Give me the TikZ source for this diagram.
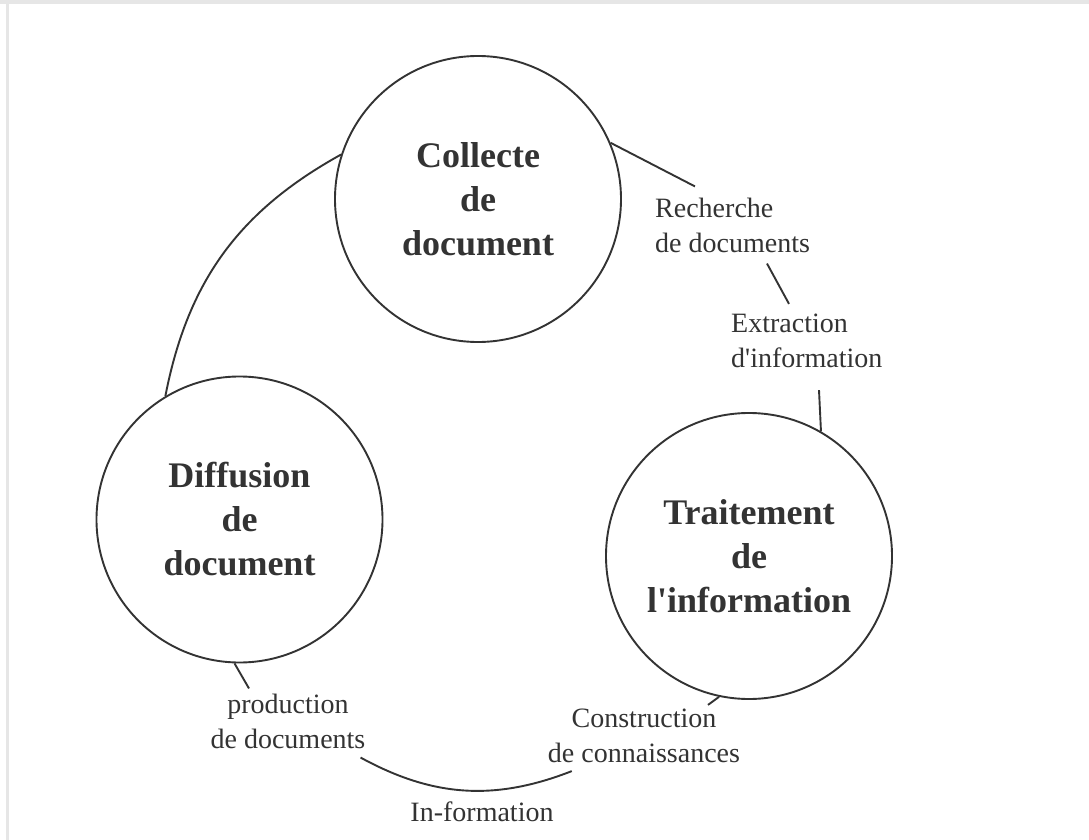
\documentclass[tikz,border=0pt]{standalone}
\usepackage{fontspec}
\setmainfont{Liberation Serif}
\definecolor{ink}{HTML}{333333}
\definecolor{framegray}{HTML}{E6E6E6}

\begin{document}
\begin{tikzpicture}[x=1pt, y=1pt,
    phase/.style={circle, draw=ink, line width=1.9pt, minimum size=286pt, inner sep=0pt,
      align=center, text=ink, font=\fontsize{36}{44}\selectfont\bfseries},
    tag/.style={inner sep=0pt, text=ink, font=\fontsize{28}{35}\selectfont},
    link/.style={draw=ink, line width=1.9pt}]

  % Frame
  \fill[white] (0,0) rectangle (1089,-840);
  \fill[framegray] (0,0) rectangle (1089,-4);
  \fill[framegray] (6,-4) rectangle (9,-840);

  % Phases of the cycle
  \node[phase] (col) at (478,-199) {Collecte\\de\\document};
  \node[phase] (dif) at (239.5,-519.5) {Diffusion\\de\\document};
  \node[phase] (trt) at (749,-556) {Traitement\\de\\l\textquotesingle information};

  % Tasks between the phases
  \node[tag, anchor=west, align=left] (rech) at (655,-225) {Recherche\\de documents};
  \node[tag, anchor=west, align=left] (extr) at (731,-341) {Extraction\\d\textquotesingle information};
  \node[tag, align=center] (constr) at (644,-736) {Construction\\de connaissances};
  \node[tag, align=center] (prod) at (288,-721) {production\\de documents};
  \node[tag, anchor=base] (inf) at (482,-821) {In-formation};

  % Links
  \draw[link] (dif.121) to[bend left=25] (col.162);
  \draw[link] (col.23) -- ([shift={(40,11)}]rech.north west);
  \draw[link] ([shift={(112,-11)}]rech.south west) -- ([shift={(58,10)}]extr.north west);
  \draw[link] ([shift={(88,-22)}]extr.south west) -- (trt.60);
  \draw[link] (trt.258) -- ([shift={(64,4)}]constr.north);
  \draw[link] (dif.268) -- ([shift={(-39,5)}]prod.north);
  \draw[link] ([shift={(-5,-9)}]prod.south east) to[bend right=25] ([shift={(24,-8)}]constr.south west);
\end{tikzpicture}
\end{document}
